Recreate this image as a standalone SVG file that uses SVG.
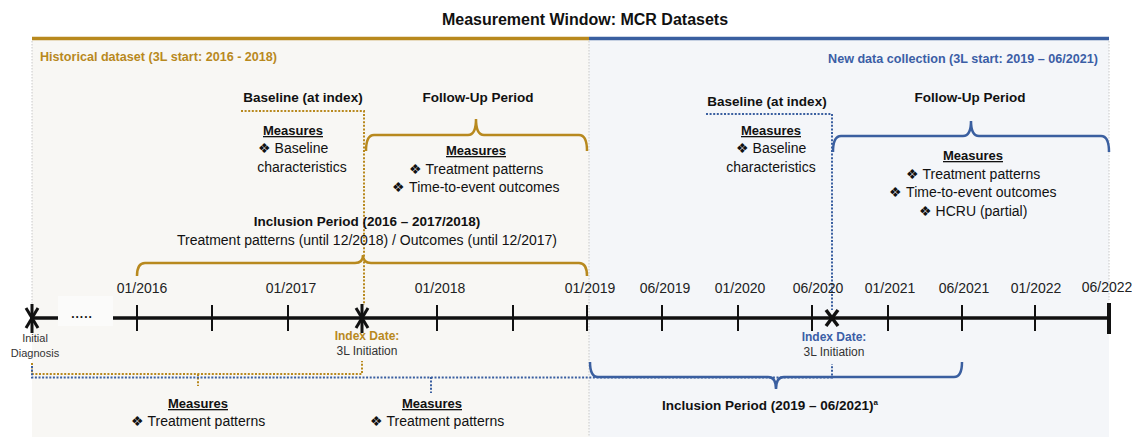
<svg xmlns="http://www.w3.org/2000/svg" width="1132" height="437" viewBox="0 0 1132 437">
<style>
text{font-family:"Liberation Sans",Arial,sans-serif;fill:#111;}
.t{font-size:16px;font-weight:bold;text-anchor:middle;}
.h{font-size:13.5px;font-weight:bold;text-anchor:middle;}
.m{font-size:13px;font-weight:bold;text-anchor:middle;text-decoration:underline;}
.b{font-size:14px;text-anchor:middle;}
.d{font-size:14px;text-anchor:middle;fill:#222;}
.s{font-size:11px;text-anchor:middle;fill:#333;}
.i{font-size:12px;text-anchor:middle;fill:#333;}
.gold{fill:#b8891e;}
.blue{fill:#3b5ea6;}
.gs{stroke:#b8891e;fill:none;stroke-width:2.5;}
.bs{stroke:#3a5fa0;fill:none;stroke-width:2.5;}
.gd{stroke:#b8891e;fill:none;stroke-width:2;stroke-dasharray:2 1.6;}
.bd{stroke:#3a5fa0;fill:none;stroke-width:2;stroke-dasharray:2 1.6;}
.tick{stroke:#111;stroke-width:2;}
.border{stroke:#c8c8c8;stroke-width:1;stroke-dasharray:1.5 1.5;fill:none;}
</style>
<rect width="1132" height="437" fill="#ffffff"/>
<g id="panels">
<rect x="32" y="40" width="557" height="397" fill="#f8f7f4"/>
<rect x="589" y="40" width="520" height="397" fill="#f4f6f9"/>
<line class="border" x1="32" y1="41" x2="32" y2="305"/>
<line class="border" x1="589" y1="41" x2="589" y2="437"/>
<line class="border" x1="1109" y1="41" x2="1109" y2="300"/>
<line x1="32" y1="38.5" x2="589" y2="38.5" stroke="#b8891e" stroke-width="3.5"/>
<line x1="589" y1="38.5" x2="1109" y2="38.5" stroke="#3a5fa0" stroke-width="3.5"/>
</g>
<g id="title"><text class="t" x="585" y="25">Measurement Window: MCR Datasets</text></g>
<g id="historical-label"><text x="40" y="61" style="font-size:12.6px;font-weight:bold" class="gold">Historical dataset (3L start: 2016 - 2018)</text></g>
<g id="new-label"><text x="1098" y="63" style="font-size:12.6px;font-weight:bold;text-anchor:end" class="blue">New data collection (3L start: 2019 – 06/2021)</text></g>

<g id="connectors">
<path class="gd" d="M241,111 L364,111 L364,305"/>
<path class="gs" d="M366,151 Q366,135 374,135 L468,135 Q476,135 476,119 Q476,135 484,135 L579,135 Q587,135 587,151"/>
<path class="gs" d="M137,276 Q137,263 145,263 L355,263 Q363,263 363,255 Q363,263 371,263 L579,263 Q587,263 587,276"/>
<path class="bd" d="M706,114 L832,114 L832,310"/>
<path class="bs" d="M833,152 Q833,136 841,136 L963,136 Q971,136 971,121 Q971,136 979,136 L1101,136 Q1109,136 1109,152"/>
<path class="gd" d="M32,363 L32,374 L362,374 L362,361"/>
<line class="gd" x1="198" y1="374" x2="198" y2="386"/>
<path class="bs" d="M590,362 Q590,377 598,377 L768,377 Q776,377 776,389 Q776,377 784,377 L954,377 Q962,377 962,362"/>
<path class="bd" d="M32,366 L32,377.5 L832,377.5 L832,364"/>
<line class="bd" x1="431" y1="377" x2="431" y2="393"/>
</g>

<g id="timeline">
<line x1="30" y1="318" x2="58" y2="318" stroke="#111" stroke-width="3.5"/>
<rect x="58" y="296" width="55" height="30" fill="#fbfbfa"/>
<text x="82" y="318" style="font-size:12px;font-weight:bold;text-anchor:middle;letter-spacing:1px">.....</text>
<line x1="113" y1="318" x2="1109" y2="318" stroke="#111" stroke-width="3.5"/>
<line class="tick" x1="137" y1="305" x2="137" y2="331"/>
<line class="tick" x1="212" y1="305" x2="212" y2="331"/>
<line class="tick" x1="288" y1="305" x2="288" y2="331"/>
<line class="tick" x1="437" y1="305" x2="437" y2="331"/>
<line class="tick" x1="513" y1="305" x2="513" y2="331"/>
<line class="tick" x1="587" y1="305" x2="587" y2="331"/>
<line class="tick" x1="662" y1="305" x2="662" y2="331"/>
<line class="tick" x1="738" y1="305" x2="738" y2="331"/>
<line class="tick" x1="812" y1="305" x2="812" y2="331"/>
<line class="tick" x1="888" y1="305" x2="888" y2="331"/>
<line class="tick" x1="962" y1="305" x2="962" y2="331"/>
<line class="tick" x1="1035" y1="305" x2="1035" y2="331"/>
<line x1="1109" y1="303" x2="1109" y2="334" stroke="#111" stroke-width="4"/>
</g>

<g id="tick-labels">
<text class="d" x="142" y="293">01/2016</text>
<text class="d" x="291" y="293">01/2017</text>
<text class="d" x="440" y="293">01/2018</text>
<text class="d" x="590" y="293">01/2019</text>
<text class="d" x="665" y="293">06/2019</text>
<text class="d" x="740" y="293">01/2020</text>
<text class="d" x="818" y="293">06/2020</text>
<text class="d" x="890" y="293">01/2021</text>
<text class="d" x="964" y="293">06/2021</text>
<text class="d" x="1036" y="293">01/2022</text>
<text class="d" x="1107" y="292">06/2022</text>
</g>

<g id="initial-diagnosis">
<g stroke="#111" stroke-width="3"><line x1="26" y1="308" x2="38" y2="328"/><line x1="38" y1="308" x2="26" y2="328"/><line x1="32" y1="304" x2="32" y2="333"/></g>
<text class="s" x="35" y="342">Initial</text>
<text class="s" x="35" y="357">Diagnosis</text>
</g>

<g id="index-date-historical">
<g stroke="#111" stroke-width="3"><line x1="356" y1="308" x2="368" y2="328"/><line x1="368" y1="308" x2="356" y2="328"/><line x1="362" y1="304" x2="362" y2="333"/></g>
<text class="i gold" x="367" y="340" style="font-weight:bold">Index Date:</text>
<text class="i" x="367" y="355">3L Initiation</text>
</g>

<g id="index-date-new">
<g stroke="#111" stroke-width="3.5"><line x1="826" y1="310" x2="838" y2="326"/><line x1="838" y1="310" x2="826" y2="326"/></g>
<text class="i blue" x="834" y="341" style="font-weight:bold">Index Date:</text>
<text class="i" x="834" y="356">3L Initiation</text>
</g>

<g id="baseline-historical">
<text class="h" x="303" y="102">Baseline (at index)</text>
<text class="m" x="293" y="135">Measures</text>
<text class="b" x="293" y="153">❖ Baseline</text>
<text class="b" x="302" y="172">characteristics</text>
</g>

<g id="followup-historical">
<text class="h" x="478" y="102">Follow-Up Period</text>
<text class="m" x="476" y="155">Measures</text>
<text class="b" x="476" y="174">❖ Treatment patterns</text>
<text class="b" x="476" y="192">❖ Time-to-event outcomes</text>
</g>

<g id="inclusion-historical">
<text class="h" x="367" y="226">Inclusion Period (2016 – 2017/2018)</text>
<text class="b" x="367" y="245">Treatment patterns (until 12/2018) / Outcomes (until 12/2017)</text>
</g>

<g id="baseline-new">
<text class="h" x="767" y="106">Baseline (at index)</text>
<text class="m" x="771" y="135">Measures</text>
<text class="b" x="771" y="153">❖ Baseline</text>
<text class="b" x="771" y="172">characteristics</text>
</g>

<g id="followup-new">
<text class="h" x="970" y="102">Follow-Up Period</text>
<text class="m" x="973" y="160">Measures</text>
<text class="b" x="973" y="179">❖ Treatment patterns</text>
<text class="b" x="973" y="197">❖ Time-to-event outcomes</text>
<text class="b" x="973" y="216">❖ HCRU (partial)</text>
</g>

<g id="measures-bottom-gold">
<text class="m" x="198" y="408">Measures</text>
<text class="b" x="198" y="426">❖ Treatment patterns</text>
</g>
<g id="measures-bottom-blue">
<text class="m" x="432" y="408">Measures</text>
<text class="b" x="437" y="426">❖ Treatment patterns</text>
</g>
<g id="inclusion-new">
<text class="h" x="770" y="410">Inclusion Period (2019 – 06/2021)<tspan style="font-size:8px" dy="-5">a</tspan></text>
</g>
</svg>
